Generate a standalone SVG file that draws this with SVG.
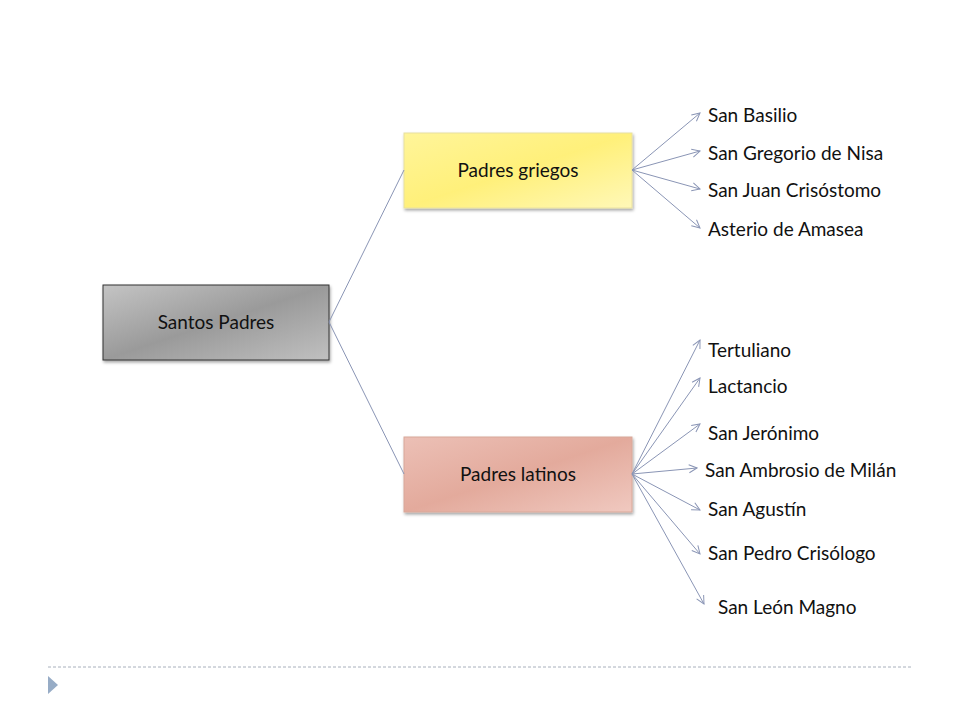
<svg xmlns="http://www.w3.org/2000/svg" width="960" height="720" viewBox="0 0 960 720">
<defs>
<linearGradient id="gGray" x1="0" y1="0" x2="1" y2="1"><stop offset="0" stop-color="#c4c4c4"/><stop offset="0.5" stop-color="#9a9a9a"/><stop offset="1" stop-color="#c0c0c0"/></linearGradient>
<linearGradient id="gYel" x1="0" y1="0" x2="1" y2="1"><stop offset="0" stop-color="#fff59a"/><stop offset="0.5" stop-color="#fff07a"/><stop offset="1" stop-color="#fff8b8"/></linearGradient>
<linearGradient id="gRed" x1="0" y1="0" x2="1" y2="1"><stop offset="0" stop-color="#ecc0b6"/><stop offset="0.5" stop-color="#e3aa9c"/><stop offset="1" stop-color="#f0c9c0"/></linearGradient>
<marker id="ar" markerWidth="10" markerHeight="10" refX="9" refY="5" orient="auto" markerUnits="userSpaceOnUse"><path d="M1,1 L9,5 L1,9" fill="none" stroke="#8a95b5" stroke-width="1"/></marker>
<filter id="sh" x="-10%" y="-10%" width="130%" height="140%"><feDropShadow dx="1" dy="2" stdDeviation="1.5" flood-opacity="0.35"/></filter>
</defs>
<style>
.t{font-family:"Lato","Open Sans",sans-serif;font-size:19px;fill:#111}
.n{font-family:"Lato","Open Sans",sans-serif;font-size:19px;fill:#111;text-anchor:middle}
.c{stroke:#8a95b5;stroke-width:1;fill:none}
</style>
<g id="santos"><rect x="103" y="285" width="226" height="75" fill="url(#gGray)" stroke="#333" stroke-width="1" filter="url(#sh)"/><text class="n" x="216" y="329">Santos Padres</text></g>
<g id="griegos"><rect x="404" y="133" width="228" height="75" fill="url(#gYel)" stroke="#e8e0a0" stroke-width="1" filter="url(#sh)"/><text class="n" x="518" y="177">Padres griegos</text></g>
<g id="latinos"><rect x="404" y="437" width="228" height="75" fill="url(#gRed)" stroke="#d8a89a" stroke-width="1" filter="url(#sh)"/><text class="n" x="518" y="481">Padres latinos</text></g>
<g id="connectors">
<line class="c" x1="329" y1="322" x2="404" y2="170"/>
<line class="c" x1="329" y1="322" x2="404" y2="474"/>
<g marker-end="url(#ar)">
<line class="c" x1="632" y1="170" x2="700" y2="113"/>
<line class="c" x1="632" y1="170" x2="700" y2="151"/>
<line class="c" x1="632" y1="170" x2="700" y2="189"/>
<line class="c" x1="632" y1="170" x2="700" y2="228"/>
<line class="c" x1="632" y1="474" x2="700" y2="340"/>
<line class="c" x1="632" y1="474" x2="700" y2="378"/>
<line class="c" x1="632" y1="474" x2="700" y2="424"/>
<line class="c" x1="632" y1="474" x2="697" y2="468"/>
<line class="c" x1="632" y1="474" x2="700" y2="510"/>
<line class="c" x1="632" y1="474" x2="700" y2="554"/>
<line class="c" x1="632" y1="474" x2="704" y2="604"/>
</g>
</g>
<g id="labels">
<text class="t" x="708" y="122">San Basilio</text>
<text class="t" x="708" y="160">San Gregorio de Nisa</text>
<text class="t" x="708" y="197">San Juan Crisóstomo</text>
<text class="t" x="708" y="236">Asterio de Amasea</text>
<text class="t" x="708" y="357">Tertuliano</text>
<text class="t" x="708" y="393">Lactancio</text>
<text class="t" x="708" y="440">San Jerónimo</text>
<text class="t" x="705" y="477">San Ambrosio de Milán</text>
<text class="t" x="708" y="516">San Agustín</text>
<text class="t" x="708" y="560">San Pedro Crisólogo</text>
<text class="t" x="718" y="614">San León Magno</text>
</g>
<g id="footer">
<line x1="48" y1="667" x2="912" y2="667" stroke="#a8b0bc" stroke-width="1" stroke-dasharray="3,2"/>
<polygon points="48,676 58,685 48,694" fill="#97acc6"/>
</g>
</svg>
